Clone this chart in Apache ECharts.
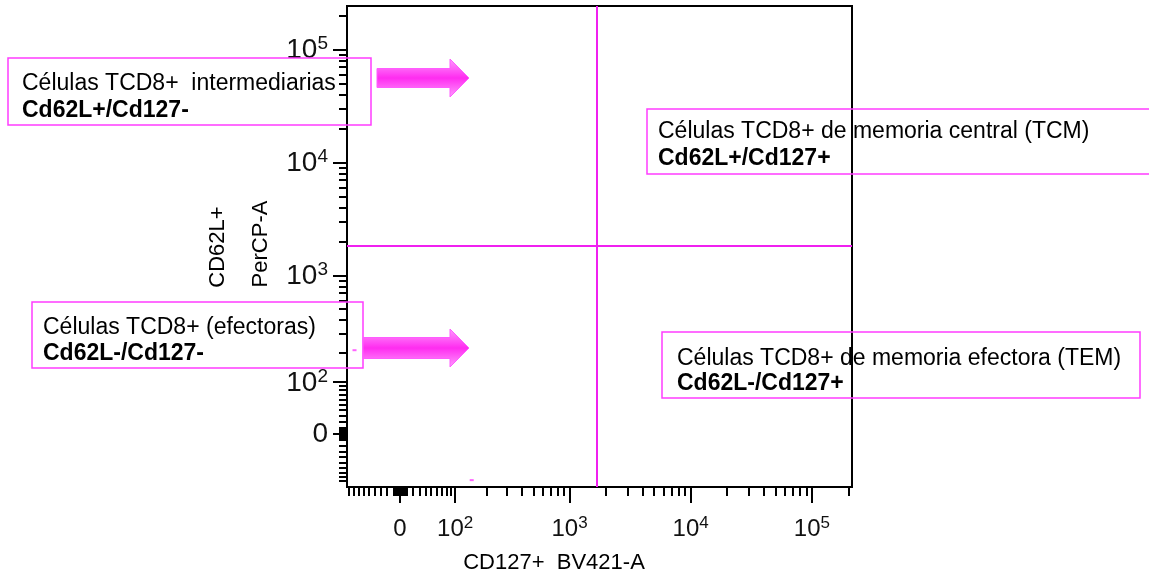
<!DOCTYPE html>
<html>
<head>
<meta charset="utf-8">
<script src="https://cdn.jsdelivr.net/npm/echarts@6/dist/echarts.min.js"></script>
<style>
  html, body { margin: 0; padding: 0; background: #fff; }
  #chart { width: 1149px; height: 579px; }
</style>
</head>
<body>
<div id="chart"></div>
<script>
// raw values (fluorescence units)
const majorTicks = [0, 100, 1000, 10000, 100000];
const majorLabels = ['0', '10{s|2}', '10{s|3}', '10{s|4}', '10{s|5}'];
const minorMultipliers = [2, 3, 4, 5, 6, 7, 8, 9];
const minorDecades = [1, 10, 100, 1000, 10000, 100000];
const gateCD127 = 1680;
const gateCD62L = 1820;
// stray events visible on the plot [CD127, CD62L]
const events = [[146, -88], [-78, 211]];

const notes = [
  { title: 'Células TCD8+  intermediarias', sub: 'Cd62L+/Cd127-' },
  { title: 'Células TCD8+ (efectoras)', sub: 'Cd62L-/Cd127-' },
  { title: 'Células TCD8+ de memoria central (TCM)', sub: 'Cd62L+/Cd127+' },
  { title: 'Células TCD8+ de memoria efectora (TEM)', sub: 'Cd62L-/Cd127+' }
];

// biexponential-like display transform
const W = 80;
function biex(v) {
  return Math.asinh(v / W) / Math.LN10;
}

const FONT = '"Liberation Sans", Arial, sans-serif';
const PINK = '#ff3cff';

const minorTicks = [-10, 10];
minorDecades.forEach(d => {
  minorMultipliers.forEach(m => {
    const v = m * d;
    if (v > 250000) return;
    minorTicks.push(v);
    if (d < 100) minorTicks.push(-v);
  });
});

const majorPos = majorTicks.map(biex);
const minorPos = minorTicks.map(biex);

// wrap labels so the base part uses the rich "b" style
majorLabels.forEach((l, i) => {
  majorLabels[i] = l.replace(/^(\d+)/, '{b|$1}');
});

function labelFor(value) {
  const i = majorPos.findIndex(p => Math.abs(p - value) < 1e-6);
  return i >= 0 ? majorLabels[i] : '';
}

const X_MIN = -0.437, X_MAX = 3.729;
const Y_MIN = -0.4735, Y_MAX = 3.783;

function axisPair(dim, fontSize, sup, lineH, supH, margin, majorLen, minorLen) {
  const base = {
    type: 'value',
    min: dim === 'x' ? X_MIN : Y_MIN,
    max: dim === 'x' ? X_MAX : Y_MAX,
    position: dim === 'x' ? 'bottom' : 'left',
    splitLine: { show: false },
    axisLine: { show: true, onZero: false, lineStyle: { color: '#000', width: 2 } }
  };
  return [
    Object.assign({}, base, {
      axisTick: {
        show: true,
        customValues: majorPos,
        length: majorLen,
        lineStyle: { color: '#000', width: 2 }
      },
      axisLabel: {
        customValues: majorPos,
        margin: margin,
        formatter: labelFor,
        fontFamily: FONT,
        color: '#111',
        rich: {
          b: { fontSize: fontSize, fontFamily: FONT, lineHeight: lineH, verticalAlign: 'bottom' },
          s: { fontSize: sup, fontFamily: FONT, lineHeight: supH, verticalAlign: 'top' }
        },
        fontSize: fontSize,
        lineHeight: lineH
      }
    }),
    Object.assign({}, base, {
      axisTick: {
        show: true,
        customValues: minorPos,
        length: minorLen,
        lineStyle: { color: '#000', width: 2 }
      },
      axisLabel: { show: false }
    })
  ];
}

const chart = echarts.init(document.getElementById('chart'));

function noteGraphics() {
  const boxes = [
    { x: 8, y: 58, w: 363, h: 67, tx: 22, t1: 84, t2: 111 },
    { x: 32, y: 302, w: 331, h: 66, tx: 43, t1: 328, t2: 354 },
    { x: 647, y: 109, w: 520, h: 65, tx: 658, t1: 132, t2: 159 },
    { x: 662, y: 332, w: 478, h: 66, tx: 677, t1: 359, t2: 384 }
  ];
  const els = [];
  boxes.forEach((b, i) => {
    els.push({
      type: 'rect', z: 100,
      shape: { x: b.x, y: b.y, width: b.w, height: b.h },
      style: { fill: 'none', stroke: PINK, lineWidth: 1.5 }
    });
    els.push({
      type: 'text', z: 101,
      style: { text: notes[i].title, x: b.tx, y: b.t1, verticalAlign: 'middle',
        font: '23px ' + FONT, fill: '#000' }
    });
    els.push({
      type: 'text', z: 101,
      style: { text: notes[i].sub, x: b.tx, y: b.t2, verticalAlign: 'middle',
        font: 'bold 23px ' + FONT, fill: '#000' }
    });
  });
  const arrowFill = {
    type: 'linear', x: 0, y: 0, x2: 0, y2: 1,
    colorStops: [
      { offset: 0, color: '#ff9cff' },
      { offset: 0.5, color: '#ff2cf0' },
      { offset: 1, color: '#ff9cff' }
    ]
  };
  [
    { x0: 377, x1: 450, x2: 469, yc: 78, bh: 9.5, hh: 19 },
    { x0: 363, x1: 450, x2: 469, yc: 348, bh: 10.5, hh: 19 }
  ].forEach(a => {
    els.push({
      type: 'polygon', z: 100,
      shape: {
        points: [
          [a.x0, a.yc - a.bh], [a.x1, a.yc - a.bh], [a.x1, a.yc - a.hh],
          [a.x2, a.yc], [a.x1, a.yc + a.hh], [a.x1, a.yc + a.bh], [a.x0, a.yc + a.bh]
        ]
      },
      style: { fill: arrowFill, stroke: '#ff5cff', lineWidth: 1 }
    });
  });
  els.push({
    type: 'text', z: 101, rotation: Math.PI / 2, x: 218, y: 247,
    style: { text: 'CD62L+', align: 'center', verticalAlign: 'middle',
      font: '22px ' + FONT, fill: '#000' }
  });
  els.push({
    type: 'text', z: 101, rotation: Math.PI / 2, x: 261, y: 244,
    style: { text: 'PerCP-A', align: 'center', verticalAlign: 'middle',
      font: '22px ' + FONT, fill: '#000' }
  });
  els.push({
    type: 'text', z: 101, x: 554, y: 563,
    style: { text: 'CD127+  BV421-A', align: 'center', verticalAlign: 'middle',
      font: '22px ' + FONT, fill: '#000' }
  });
  return els;
}

const xAxes = axisPair('x', 24, 17, 26, 14, 28, 16, 9);
const yAxes = axisPair('y', 28, 19, 30, 10, 19, 14, 8);

const option = {
  animation: false,
  grid: {
    left: 347, top: 6, right: 297, bottom: 92,
    show: true, borderColor: '#000', borderWidth: 2, backgroundColor: 'transparent'
  },
  xAxis: xAxes,
  yAxis: yAxes,
  graphic: noteGraphics(),
  series: [
    {
      type: 'scatter',
      xAxisIndex: 0,
      yAxisIndex: 0,
      symbol: 'rect',
      symbolSize: [4, 2],
      itemStyle: { color: PINK },
      data: events.map(e => [biex(e[0]), biex(e[1])]),
      markLine: {
        silent: true,
        symbol: 'none',
        label: { show: false },
        lineStyle: { color: '#f020f0', width: 2, type: 'solid' },
        data: [{ xAxis: biex(gateCD127) }, { yAxis: biex(gateCD62L) }]
      }
    }
  ]
};

chart.setOption(option);
</script>
</body>
</html>
